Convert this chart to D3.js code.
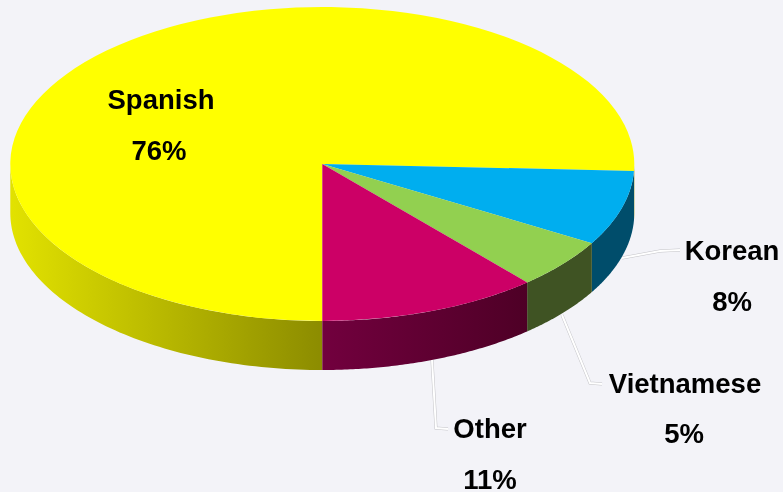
<!DOCTYPE html>
<html>
<head>
<meta charset="utf-8">
<script src="https://cdnjs.cloudflare.com/ajax/libs/d3/7.8.5/d3.min.js"></script>
<style>
  html, body { margin: 0; padding: 0; background: #f3f3f8; }
  svg { display: block; }
  .label { font-family: "Liberation Sans", Arial, sans-serif; font-weight: bold; font-size: 27.5px; fill: #000; text-anchor: middle; filter: url(#soft); }
</style>
</head>
<body>
<svg id="chart" width="783" height="492"></svg>
<script>
var categories = ['Spanish', 'Korean', 'Vietnamese', 'Other'];
// the labels show them rounded
var shares = [75.7, 7.7, 5.2, 11.4];
var topColors = ['#ffff00', '#00aeef', '#92d050', '#cc0066'];
var sideFrom = ['#e2e200', '#004d6b', '#3f5323', '#72003e'];
var sideTo = ['#8c8c00', '#004d6b', '#3f5323', '#4e0026'];

var width = 783, height = 492;
var cx = 322.3, cy = 164, rx = 312, ry = 157, depth = 49;

var svg = d3.select('#chart');
var defs = svg.append('defs');

// the reference is a slightly soft upscaled image
defs.append('filter').attr('id', 'soft')
  .attr('x', '-5%').attr('y', '-5%').attr('width', '110%').attr('height', '110%')
  .append('feGaussianBlur').attr('stdDeviation', 0.45);

// where each name and percent sit, and the leader line back to the pie
var labelSpots = [
  { x: 161, y: 109, px: 159, py: 160, leader: null },
  { x: 732, y: 260, px: 732, py: 311, leader: [[622, 258], [660, 251], [680, 250]] },
  { x: 685, y: 393, px: 684, py: 443, leader: [[562, 315], [590, 383], [602, 384]] },
  { x: 490, y: 438, px: 490, py: 489, leader: [[432, 360], [436, 428], [448, 429]] }
];

// first slice starts at the bottom of the pie and runs clockwise
var pie = d3.pie().sort(null).startAngle(Math.PI).endAngle(3 * Math.PI);
var arcs = pie(shares);

function project(a) {
  return [cx + rx * Math.sin(a), cy - ry * Math.cos(a)];
}

// only the front half of the rim can be seen, from 90deg to 270deg
function sidePath(d) {
  var parts = [];
  [[d.startAngle, d.endAngle], [d.startAngle - 2 * Math.PI, d.endAngle - 2 * Math.PI]].forEach(function (r) {
    var a0 = Math.max(r[0], Math.PI / 2);
    var a1 = Math.min(r[1], 3 * Math.PI / 2);
    if (a1 <= a0) return;
    var pts = d3.range(0, 81).map(function (i) {
      return project(a0 + (a1 - a0) * i / 80);
    });
    var lower = pts.slice().reverse().map(function (p) { return [p[0], p[1] + depth]; });
    parts.push(d3.line()(pts.concat(lower)) + 'Z');
  });
  return parts.join('');
}

// leader lines are behind the pie
labelSpots.forEach(function (s) {
  if (!s.leader) return;
  svg.append('path').attr('d', d3.line()(s.leader)).attr('fill', 'none')
    .attr('stroke', '#c4c4c8').attr('stroke-width', 3);
  svg.append('path').attr('d', d3.line()(s.leader)).attr('fill', 'none')
    .attr('stroke', '#ffffff').attr('stroke-width', 2);
});

// rim
var sides = svg.append('g');
arcs.forEach(function (d, i) {
  var pathStr = sidePath(d);
  if (!pathStr) return;
  var gx0 = i === 0 ? cx - rx : project(d.startAngle)[0];
  var gx1 = i === 0 ? cx : project(d.endAngle)[0];
  var grad = defs.append('linearGradient').attr('id', 'side' + i)
    .attr('gradientUnits', 'userSpaceOnUse')
    .attr('x1', Math.min(gx0, gx1)).attr('x2', Math.max(gx0, gx1))
    .attr('y1', 0).attr('y2', 0);
  grad.append('stop').attr('offset', 0).attr('stop-color', sideFrom[i]);
  grad.append('stop').attr('offset', 1).attr('stop-color', sideTo[i]);
  sides.append('path').attr('d', pathStr).attr('fill', 'url(#side' + i + ')');
});

// top face: unit arc squashed into the ellipse
var arc = d3.arc().innerRadius(0).outerRadius(1);
svg.append('g')
  .attr('transform', 'translate(' + cx + ',' + cy + ') scale(' + rx + ',' + ry + ')')
  .selectAll('path')
  .data(arcs)
  .enter().append('path')
  .attr('d', arc)
  .attr('fill', function (d, i) { return topColors[i]; });

// labels
labelSpots.forEach(function (s, i) {
  svg.append('text').attr('class', 'label').attr('x', s.x).attr('y', s.y).text(categories[i]);
  svg.append('text').attr('class', 'label').attr('x', s.px).attr('y', s.py).text(Math.round(shares[i]) + '%');
});
</script>
</body>
</html>
